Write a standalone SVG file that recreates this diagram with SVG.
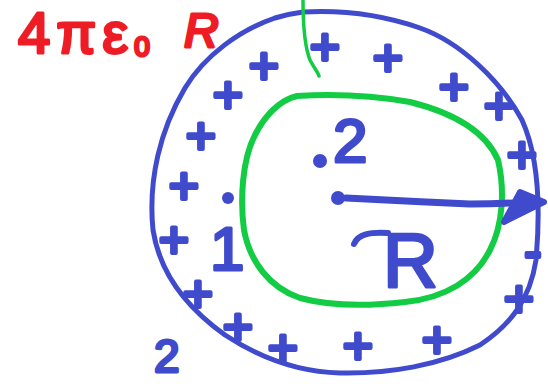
<svg xmlns="http://www.w3.org/2000/svg" width="548" height="384" viewBox="0 0 548 384">
<style>
.ink{fill:none;stroke-linecap:round;stroke-linejoin:round}
.blue{stroke:#3f4bcc}
.green{stroke:#12cc44}
.bt{fill:#3f4bcc;stroke:#3f4bcc;stroke-width:3;stroke-linejoin:round;font-family:"Liberation Sans",Arial,sans-serif}
.plus{font-size:52px;stroke-width:4;text-anchor:middle;dominant-baseline:central}
.red{fill:#ee1c25;stroke:#ee1c25;stroke-width:3;stroke-linejoin:round;font-family:"Liberation Sans",Arial,sans-serif}
</style>
<rect width="548" height="384" fill="#ffffff"/>
<g id="formula">
<text class="red" x="18" y="53" font-size="58" letter-spacing="6">4πε<tspan font-size="28" dy="3">0</tspan></text>
<text class="red" x="184" y="47" font-size="48" font-style="italic">R</text>
</g>
<g id="sphere">
<path class="ink blue" stroke-width="5" d="M303 12 C340 10 380 14 420 28 C460 42 500 80 522 120 C540 160 540 215 536 260 C530 300 510 325 480 345 C440 365 390 374 340 373 C300 372 260 358 225 335 C190 310 160 275 153 230 C148 180 160 130 185 88 C205 55 240 30 275 18 C285 15 295 13 303 12 Z"/>
</g>
<g id="charges">
<text class="bt plus" x="264" y="66" font-size="42">+</text>
<text class="bt plus" x="325" y="47">+</text>
<text class="bt plus" x="388" y="58">+</text>
<text class="bt plus" x="454" y="87">+</text>
<text class="bt plus" x="499" y="106" font-size="40">+</text>
<text class="bt plus" x="522" y="155">+</text>
<text class="bt plus" x="228" y="95" font-size="36">+</text>
<text class="bt plus" x="201" y="136" font-size="48">+</text>
<text class="bt plus" x="184" y="186">+</text>
<text class="bt plus" x="174" y="240">+</text>
<text class="bt plus" x="198" y="294">+</text>
<text class="bt plus" x="238" y="327">+</text>
<text class="bt plus" x="283" y="348">+</text>
<text class="bt plus" x="358" y="346">+</text>
<text class="bt plus" x="437" y="340">+</text>
<text class="bt plus" x="519" y="299" font-size="46">+</text>
<text class="bt plus" x="533" y="251" font-size="30">-</text>
</g>
<g id="cavity">
<path class="ink green" stroke-width="6" d="M297 96 C330 94 370 95 410 102 C450 112 485 130 498 160 C505 190 503 225 490 250 C475 280 445 298 405 302 C370 306 330 306 300 298 C270 288 250 262 244 230 C240 200 242 160 255 135 C265 115 280 100 297 96 Z"/>
</g>
<g id="connectors">
<path class="ink green" stroke-width="3.5" d="M303 0 C303 20 304 45 310 60 C314 68 318 72 319 76"/>
<path class="ink blue" stroke-width="7" d="M346 198 C380 200 430 202 470 204 C495 204 515 203 530 202"/>
<polygon points="520,192 544,202 504,222" fill="#3f4bcc" stroke="#3f4bcc" stroke-width="6" stroke-linejoin="round"/>
</g>
<g id="labels">
<circle cx="338" cy="198" r="7" fill="#3f4bcc"/>
<circle cx="320" cy="161" r="7" fill="#3f4bcc"/>
<circle cx="228" cy="198" r="6" fill="#3f4bcc"/>
<text class="bt" x="333" y="162" font-size="62">2</text>
<text class="bt" x="210" y="270" font-size="62">1</text>
<text class="bt" x="383" y="287" font-size="76">R</text>
<path class="ink blue" stroke-width="6" d="M354 244 C358 234 370 232 388 233"/>
<text class="bt" x="154" y="372" font-size="46">2</text>
</g>
</svg>
